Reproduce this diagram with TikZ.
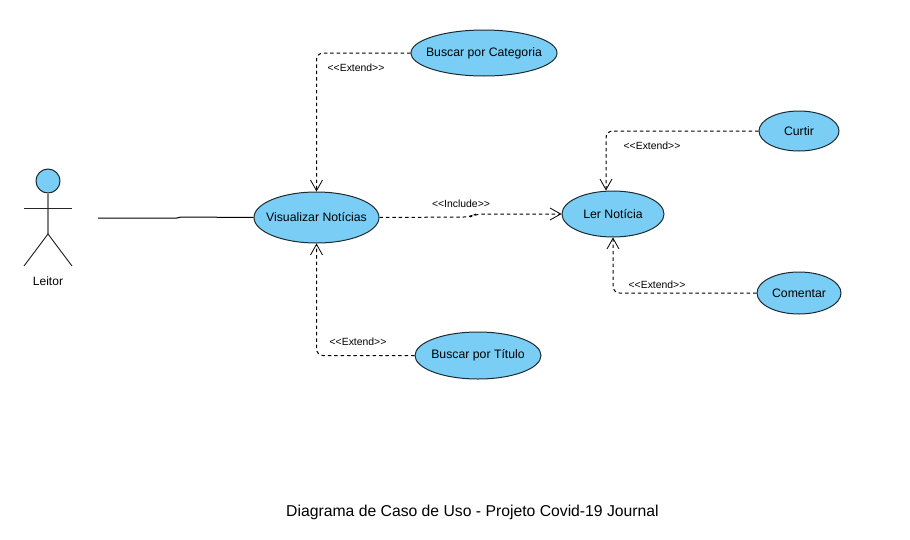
\documentclass[tikz,border=0pt]{standalone}
\usepackage{fontspec}
\setmainfont{Liberation Sans}
\usetikzlibrary{arrows.meta,shapes.geometric}

\definecolor{casefill}{HTML}{7ACEF5}
\definecolor{caseline}{HTML}{1F2A30}

\newcommand{\casename}[1]{\makebox[0pt]{#1}}

\begin{document}
\begin{tikzpicture}[%
    x=0.75pt,
    y=-0.75pt,
    usecase/.style 2 args={
        draw = caseline,
        fill = casefill,
        ellipse,
        inner sep = 0,
        line width = 0.75pt,
        minimum width = #1*0.75pt,
        minimum height = #2*0.75pt,
        anchor = center,
        font = \fontsize{9.2}{11}\selectfont,
        },
    steretype/.style={
        inner sep = 0,
        font = \fontsize{7.8}{9}\selectfont,
        },
    assoc/.style={
        line width = 0.75pt,
        black,
        },
    depend/.style={
        line width = 0.75pt,
        black,
        dash pattern = on 2.6pt off 2.2pt,
        rounded corners = 5pt,
        -{Straight Barb[length=8pt, width=9pt, line width=0.6pt]},
        },
    limb/.style={
        line width = 0.7pt,
        black!85,
        },
]

\useasboundingbox (0,0) rectangle (910,539);

% actor
\node[circle, draw=caseline, fill=casefill, line width=0.75pt, minimum size=18pt, inner sep=0] (head) at (48,181) {};
\coordinate (hip) at (48,234);
\coordinate (armleft) at (24,208);
\coordinate (armright) at (72,208);
\coordinate (footleft) at (24,266);
\coordinate (footright) at (72,266);
\draw[line width=1.4pt, black!50] (head.south) -- (hip);
\draw[limb] (armleft) -- (armright);
\draw[limb] (footleft) -- (hip) -- (footright);
\node[inner sep=0, font=\fontsize{9}{11}\selectfont] (leitor) at (48,281) {Leitor};

% use cases
\node[usecase={125}{51}] (visualizar) at (316.5,217.5) {\casename{Visualizar Notícias}};
\node[usecase={146}{46}] (categoria) at (484,53) {\casename{Buscar por Categoria}};
\node[usecase={126}{47}] (titulo) at (478,355.5) {\casename{Buscar por Título}};
\node[usecase={102}{46}] (ler) at (613,214) {\casename{Ler Notícia}};
\node[usecase={80}{40}] (curtir) at (799,131) {\casename{Curtir}};
\node[usecase={84}{42}] (comentar) at (799,293) {\casename{Comentar}};

% connectors
\coordinate (actorend) at (98,218);
\coordinate (bendone) at (177,218);
\coordinate (bendtwo) at (181,217);
\draw[assoc] (actorend) -- (bendone) -- (bendtwo) -- (visualizar.west);

\coordinate (inclone) at (470,217);
\coordinate (incltwo) at (476,214);
\draw[depend] (visualizar.east) -- (inclone) -- (incltwo) -- (ler.west);

\draw[depend] (categoria.west) -| (visualizar.north);
\draw[depend] (titulo.west) -| (visualizar.south);
\draw[depend] (curtir.west) -| ([xshift=-5.25pt]ler.north);
\draw[depend] (comentar.west) -| (ler.south);

% labels
\node[steretype] (extcategoria) at (356,67.5) {<{}<Extend>{}>};
\node[steretype] (exttitulo) at (358,341.5) {<{}<Extend>{}>};
\node[steretype] (incler) at (461,203.5) {<{}<Include>{}>};
\node[steretype] (extcurtir) at (652,145.5) {<{}<Extend>{}>};
\node[steretype] (extcomentar) at (657,284.5) {<{}<Extend>{}>};

\node[inner sep=0, font=\fontsize{11.8}{14}\selectfont] (caption) at (472.5,512) {Diagrama de Caso de Uso - Projeto Covid-19 Journal};

\end{tikzpicture}
\end{document}
